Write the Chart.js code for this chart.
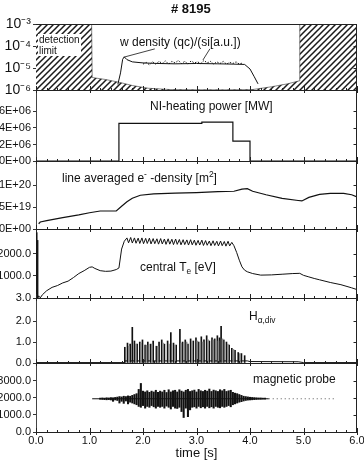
<!DOCTYPE html>
<html><head><meta charset="utf-8">
<script src="https://cdn.jsdelivr.net/npm/chart.js@4"></script>
<style>
html,body{margin:0;padding:0;background:#fff;}
#wrap{position:relative;width:364px;height:467px;overflow:hidden;font-family:"Liberation Sans",Arial,Helvetica,sans-serif;color:#111;}
canvas{position:absolute;left:0;top:0;}
.lb{position:absolute;white-space:nowrap;font-size:12px;line-height:12px;}
.lb sup,.lb sub{font-size:0.7em;line-height:0;}
</style></head><body>
<div id="wrap">
<canvas id="c" width="364" height="467"></canvas>
<div class="lb" style="left:171px;top:3px;font-size:13px;font-weight:bold">#&nbsp;8195</div>
<div class="lb" style="left:120px;top:36px;">w density (qc)/(si[a.u.])</div>
<div class="lb" style="left:38px;top:34px;font-size:10px;line-height:11px;background:#fff;padding:0 1px;">detection<br>limit</div>
<div class="lb" style="left:150px;top:100px;">NI-heating power [MW]</div>
<div class="lb" style="left:62px;top:172px;">line averaged e<sup>-</sup> -density [m<sup>2</sup>]</div>
<div class="lb" style="left:140px;top:261px;">central T<sub>e</sub> [eV]</div>
<div class="lb" style="left:249px;top:310px;">H<sub>α,div</sub></div>
<div class="lb" style="left:253px;top:373px;">magnetic probe</div>
</div>
<script>
// ---------- tick labels ----------
const timeTicks = [0,1,2,3,4,5,6];
const timeTickLabels = ['0.0','1.0','2.0','3.0','4.0','5.0','6.0'];
const wTicks = [1e-6,1e-5,1e-4,1e-3];
const wTickLabels = ['10\u207B\u2076','10\u207B\u2075','10\u207B\u2074','10\u207B\u00B3'];
const pTicks = [0,2e6,4e6,6e6];
const pTickLabels = ['0E+00','2E+06','4E+06','6E+06'];
const nTicks = [0,5e19,1e20];
const nTickLabels = ['0E+00','5E+19','1E+20'];
const teTicks = [3,1000,2000];
const teTickLabels = ['3.0','1000.0','2000.0'];
const haTicks = [0,1,2];
const haTickLabels = ['0.0','1.0','2.0'];
const mpTicks = [0,1000,2000,3000];
const mpTickLabels = ['0.0','1000.0','2000.0','3000.0'];

// ---------- panel 1: W density ----------
const detT = [0,1.04,1.05,1.3,1.57,1.8,2.1,2.5,3.0,3.5,4.05,4.4,4.7,4.92,4.93,6.0];
const detV = [1e-3,1e-3,3.7e-6,3.0e-6,2.2e-6,1.6e-6,1.2e-6,1.05e-6,1.03e-6,1.02e-6,1.05e-6,1.4e-6,1.9e-6,2.6e-6,1e-3,1e-3];
const wT = [1.53,1.58,1.62,1.65,1.7,1.8,2.0,2.3,2.6,3.0,3.4,3.7,3.9,4.0,4.08,4.15];
const wV = [1.8e-6,6e-6,2.5e-5,3.2e-5,2.4e-5,1.9e-5,1.7e-5,1.6e-5,1.55e-5,1.6e-5,1.55e-5,1.5e-5,1.45e-5,9e-6,4e-6,1.9e-6];
const siT = [2.00,2.06,2.12,2.18,2.24,2.30,2.36,2.42,2.48,2.54,2.60,2.66,2.72,2.78,2.84,2.90,2.96,3.02,3.08,3.14,3.20,3.26,3.32,3.38,3.44,3.50,3.56,3.62,3.68,3.74,3.80,3.86];
const siV = [1.5e-5,1.8e-5,1.4e-5,1.9e-5,1.5e-5,2.0e-5,1.6e-5,2.1e-5,1.5e-5,2.0e-5,1.7e-5,2.2e-5,1.6e-5,2.0e-5,1.5e-5,2.1e-5,1.7e-5,1.9e-5,1.6e-5,2.2e-5,1.7e-5,2.0e-5,1.5e-5,1.9e-5,1.6e-5,2.0e-5,1.5e-5,1.8e-5,1.6e-5,1.9e-5,1.5e-5,1.7e-5];
const lead1T = [2.22,1.64]; const lead1V = [7.4e-5,3.1e-5];
const lead2T = [3.25,3.12]; const lead2V = [7.4e-5,2.3e-5];

// ---------- panel 2: NI heating ----------
const pT = [0,1.55,1.55,3.1,3.1,3.68,3.68,4.0,4.0,6.0];
const pV = [0,0,4.55e6,4.55e6,4.7e6,4.7e6,2.4e6,2.4e6,0,0];

// ---------- panel 3: line averaged density ----------
const nT = [0.05,0.08,0.2,0.5,0.8,1.0,1.2,1.5,1.6,1.7,1.8,1.95,2.2,2.6,3.0,3.4,3.7,3.85,3.95,4.05,4.3,4.6,4.9,4.97,5.1,5.3,5.5,5.75,5.9,6.0];
const nV = [1.2e19,1.6e19,1.9e19,2.6e19,3.2e19,3.7e19,4.1e19,4.1e19,5.2e19,6.2e19,7.0e19,7.7e19,8.0e19,8.2e19,8.3e19,8.5e19,8.6e19,9.1e19,9.2e19,8.6e19,7.8e19,7.0e19,6.5e19,6.4e19,7.2e19,7.9e19,8.1e19,8.1e19,7.8e19,7.3e19];

// ---------- panel 4: central Te ----------
const teT = [0.00,0.015,0.02,0.03,0.035,0.05,0.08,0.12,0.2,0.3,0.4,0.5,0.6,0.7,0.8,0.9,1.0,1.05,1.1,1.2,1.3,1.4,1.5,1.55,1.6,1.65,
 1.70,1.73,1.77,1.80,1.84,1.87,1.91,1.94,1.98,2.01,2.05,2.08,2.12,2.15,2.19,2.22,2.26,2.29,2.33,2.36,2.40,2.43,2.47,2.50,2.54,2.57,2.61,2.64,2.68,2.71,2.75,2.78,2.82,2.85,2.89,2.92,2.96,2.99,3.03,3.06,3.10,3.13,3.17,3.20,3.24,3.27,3.31,3.34,3.38,3.41,3.45,3.48,3.52,3.55,3.59,3.62,3.66,
 3.70,3.75,3.80,3.85,3.90,3.95,4.05,4.2,4.4,4.6,4.8,4.93,5.0,5.1,5.2,5.3,5.5,5.7,5.9,6.0];
const teV = [3,2950,3,2600,3,100,10,150,330,480,560,680,760,920,1100,1230,1380,1400,1330,1230,1200,1210,1280,1350,2200,2550,
 2700,2480,2720,2470,2700,2460,2690,2450,2700,2440,2680,2450,2690,2430,2670,2440,2660,2420,2670,2430,2650,2410,2660,2420,2640,2400,2650,2410,2630,2390,2620,2400,2610,2380,2620,2390,2600,2370,2590,2380,2600,2360,2580,2370,2560,2350,2570,2360,2550,2340,2560,2350,2540,2330,2550,2340,2500,
 2350,2050,1700,1400,1250,1180,1100,1030,1040,1070,1100,1110,1020,950,880,820,700,600,460,380];

// ---------- panel 5: H alpha div ----------
const hT = [0,1.66,1.66,3.95,4.0,4.9,5.0,6.0];
const hV = [0.02,0.02,0.1,0.1,0.07,0.06,0.02,0.02];
const haT = [1.66,1.71,1.76,1.80,1.84,1.89,1.94,1.99,2.04,2.09,2.14,2.19,2.25,2.30,2.35,2.40,2.46,2.52,2.57,2.62,2.69,2.74,2.79,2.84,2.89,2.94,2.99,3.04,3.09,3.14,3.19,3.24,3.29,3.34,3.39,3.43,3.46,3.51,3.56,3.61,3.66,3.72,3.78,3.84,3.90];
const haV = [0.75,0.95,0.9,1.7,1.05,0.9,1.0,1.1,0.85,1.0,0.9,1.05,0.8,1.0,1.1,0.9,1.05,1.45,0.95,0.85,1.6,1.0,1.1,0.9,1.15,1.05,1.2,1.0,1.25,1.1,1.3,1.05,1.2,1.15,1.3,1.2,1.75,1.1,1.0,0.85,0.7,0.6,0.5,0.45,0.35];
const haGT = [1.735,1.865,1.965,2.065,2.165,2.275,2.375,2.485,2.595,2.715,2.815,2.915,3.015,3.115,3.215,3.315,3.41,3.485,3.585,3.69,3.81];
const haGV = [0.8,0.9,0.95,0.85,0.9,0.8,0.95,0.9,0.85,0.95,1.0,1.0,1.05,1.0,1.1,1.1,1.05,1.15,0.9,0.65,0.45];

// ---------- panel 6: magnetic probe ----------
const mpT = [1.20,1.24,1.28,1.32,1.36,1.40,1.44,1.48,1.52,1.56,1.60,1.64,1.68,1.72,1.76,1.80,1.84,1.88,1.92,1.96,2.00,2.04,2.08,2.12,2.16,2.20,2.24,2.28,2.32,2.36,2.40,2.44,2.48,2.52,2.56,2.60,2.64,2.68,2.72,2.76,2.80,2.84,2.88,2.92,2.96,3.00,3.04,3.08,3.12,3.16,3.20,3.24,3.28,3.32,3.36,3.40,3.44,3.48,3.52,3.56,3.60,3.64,3.68,3.72,3.76,3.80,3.84,3.88,3.92,3.96,4.00,4.04,4.08,4.12,4.16,4.20,4.24,4.28];
const mpHi = [1990,2000,1990,2010,2000,2020,2010,2030,
 2050,2080,2060,2100,2080,2120,2100,2150,2200,2250,
 2500,2850,2400,2350,2420,2330,2400,2350,2450,2330,
 2400,2350,2450,2320,2480,2350,2420,2450,2350,2480,
 2400,2350,2450,2500,2380,2420,2460,2350,2500,2420,
 2380,2450,2400,2520,2380,2460,2420,2380,2480,2420,
 2500,2380,2420,2450,2330,2280,2250,2200,2150,2100,
 2080,2060,2040,2030,2020,2010,2000,2000,1990,1990];
const mpLo = [1920,1910,1900,1890,1900,1880,1800,1880,
 1850,1700,1800,1680,1820,1650,1750,1700,1650,1600,
 1500,1450,1550,1400,1500,1450,1550,1480,1400,1500,
 1450,1500,1400,1520,1450,1350,1500,1400,1380,1450,
 1200,850,1400,900,1300,1450,1480,1400,1500,1420,
 1480,1400,1500,1420,1480,1400,1500,1450,1420,1500,
 1450,1500,1550,1480,1600,1650,1700,1750,1780,1820,
 1850,1870,1880,1890,1900,1910,1920,1920,1930,1930];
const mpBaseT = [1.05,4.35]; const mpBaseV = [1950,1950];
const mpTailT = [4.35,5.6]; const mpTailV = [1950,1950];

// ---------- build ----------
const FONT = "'Liberation Sans', Arial, Helvetica, sans-serif";
Chart.defaults.font.family = FONT;
Chart.defaults.color = '#111';
const pts = (xs, ys) => xs.map((x, i) => ({x: x, y: ys[i]}));
const canvas = document.getElementById('c');
const ctx = canvas.getContext('2d');

const pc = document.createElement('canvas'); pc.width = 6; pc.height = 6;
const pg = pc.getContext('2d');
pg.fillStyle = '#fff'; pg.fillRect(0,0,6,6);
pg.strokeStyle = '#1a1a1a'; pg.lineWidth = 1.5;
pg.beginPath(); pg.moveTo(-1,7); pg.lineTo(7,-1); pg.moveTo(-4,4); pg.lineTo(4,-4); pg.moveTo(2,10); pg.lineTo(10,2); pg.stroke();
const hatch = ctx.createPattern(pc, 'repeat');

function yScale(type, min, max, ticks, labels, weight, order, fontSize) {
  return {
    type: type, min: min, max: max, position: 'left', stack: 'panels', stackWeight: weight, weight: order, offset: false,
    afterBuildTicks: s => { s.ticks = ticks.map(v => ({value: v})); },
    afterFit: s => { s.width = 36; },
    ticks: { autoSkip: false, padding: 2, color: '#111', font: {family: FONT, size: fontSize}, callback: (v, i) => labels[i] },
    grid: { drawOnChartArea: false, drawTicks: true, tickLength: 3, color: '#333' },
    border: { display: true, color: '#444', width: 1 }
  };
}
const line = (data, axis, extra) => Object.assign({type: 'line', data: data, yAxisID: axis, borderColor: '#111', borderWidth: 1, pointRadius: 0, tension: 0, fill: false}, extra || {});
const bars = (data, axis, color, thick) => ({type: 'bar', data: data, yAxisID: axis, backgroundColor: color, borderWidth: 0, barThickness: thick, grouped: false});

const frame = {
  id: 'frame',
  afterDatasetsDraw(chart) {
    const c = chart.ctx, a = chart.chartArea, xs = chart.scales.x;
    const ids = ['yW','yP','yN','yT','yH','yM'];
    c.save(); c.strokeStyle = '#222'; c.lineWidth = 1; c.beginPath();
    const top = Math.round(a.top) + 0.5;
    c.moveTo(a.left, top); c.lineTo(a.right, top);
    ids.forEach(id => { const yb = Math.round(chart.scales[id].bottom) + 0.5; c.moveTo(a.left, yb); c.lineTo(a.right, yb); });
    const rx = Math.round(a.right) - 0.5;
    c.moveTo(rx, a.top); c.lineTo(rx, a.bottom);
    for (let k = 0; k <= 30; k++) {
      const px = Math.round(xs.getPixelForValue(k * 0.2)) + 0.5;
      const major = k % 5 === 0;
      ids.forEach(id => { const yb = chart.scales[id].bottom; c.moveTo(px, yb - (major ? 4 : 2)); c.lineTo(px, yb + (major ? 3 : 0)); });
    }
    ids.forEach(id => { const s = chart.scales[id]; s.ticks.forEach(tk => { const py = Math.round(s.getPixelForValue(tk.value)) + 0.5; c.moveTo(rx - 3, py); c.lineTo(rx, py); }); });
    c.stroke(); c.restore();
  }
};

new Chart(ctx, {
  type: 'line',
  data: { datasets: [
    line(pts(detT, detV), 'yW', {fill: 'start', backgroundColor: hatch, borderWidth: 0.6, borderColor: '#333', order: 10}),
    line(pts(wT, wV), 'yW'),
    line(pts(siT, siV), 'yW', {borderDash: [1.5, 1.5]}),
    line(pts(lead1T, lead1V), 'yW', {borderWidth: 0.8}),
    line(pts(lead2T, lead2V), 'yW', {borderWidth: 0.8}),
    line(pts(pT, pV), 'yP', {borderWidth: 1.2}),
    line(pts(nT, nV), 'yN', {borderWidth: 1.2}),
    line(pts(teT, teV), 'yT'),
    bars(pts(haGT, haGV), 'yH', '#8a8a8a', 1),
    bars(pts(haT, haV), 'yH', '#111', 1),
    line(pts(hT, hV), 'yH'),
    bars(mpT.map((t, i) => ({x: t, y: [mpLo[i], mpHi[i]]})), 'yM', '#111', 1.4),
    line(pts(mpBaseT, mpBaseV), 'yM'),
    line(pts(mpTailT, mpTailV), 'yM', {borderDash: [1, 3], borderColor: '#555'})
  ]},
  options: {
    responsive: false, animation: false, devicePixelRatio: 1, events: [],
    layout: { padding: {top: 24, right: 0, left: 0, bottom: 0} },
    plugins: { legend: {display: false}, tooltip: {enabled: false}, title: {display: false} },
    scales: {
      x: {
        type: 'linear', min: 0, max: 6, offset: false, position: 'bottom',
        afterBuildTicks: s => { s.ticks = timeTicks.map(v => ({value: v})); },
        afterFit: s => { s.height = 35; s.paddingRight = 7; s.paddingLeft = 0; },
        ticks: { padding: 2, color: '#111', font: {family: FONT, size: 11}, autoSkip: false, maxRotation: 0, callback: (v, i) => timeTickLabels[i] },
        grid: { display: false, drawTicks: false, tickLength: 0, offset: false },
        border: { display: false },
        title: { display: true, text: 'time [s]', color: '#111', font: {family: FONT, size: 13}, padding: {top: 0, bottom: 6} }
      },
      yW: yScale('logarithmic', 1e-6, 1e-3, wTicks, wTickLabels, 66, 6, 14),
      yP: yScale('linear', 0, 8.6e6, pTicks, pTickLabels, 71, 5, 11),
      yN: yScale('linear', 0, 1.55e20, nTicks, nTickLabels, 68, 4, 11),
      yT: yScale('linear', 3, 3100, teTicks, teTickLabels, 69, 3, 11),
      yH: yScale('linear', 0, 3.1, haTicks, haTickLabels, 65, 2, 11),
      yM: yScale('linear', 0, 4050, mpTicks, mpTickLabels, 69, 1, 11)
    }
  },
  plugins: [frame]
});
</script>
</body></html>
